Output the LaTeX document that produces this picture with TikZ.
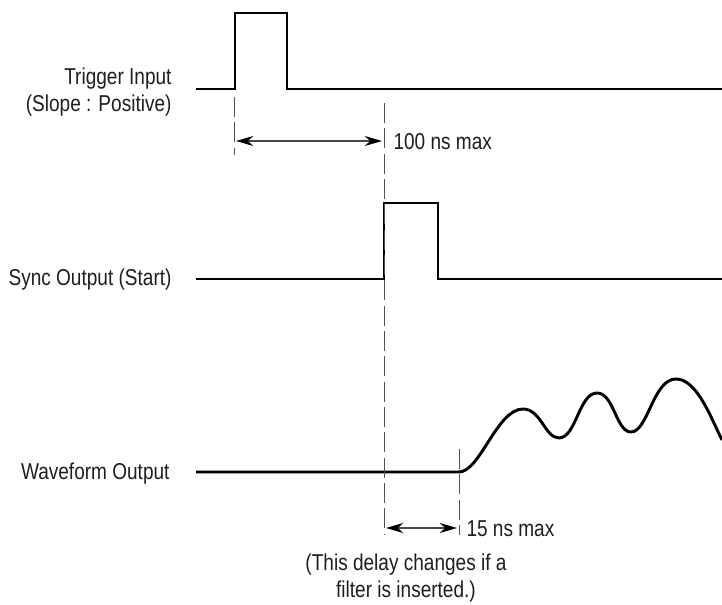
\documentclass[tikz,border=0pt]{standalone}
\usepackage{fontspec}
\setmainfont[FakeStretch=0.83]{Liberation Sans}
\usetikzlibrary{arrows.meta}

\tikzset{every picture/.style={line width=0.75pt}}
\tikzset{
  signal/.style={line width=2.2pt, line join=miter},
  guide/.style={color={rgb, 255:red, 80; green, 80; blue, 80 }, line width=0.65pt, dash pattern=on 15pt off 4pt},
  dimarrow/.style={color={rgb, 255:red, 70; green, 70; blue, 70 }, line width=0.9pt, {Stealth[length=13pt,width=7.5pt,color=black]}-{Stealth[length=13pt,width=7.5pt,color=black]}},
  lbl/.style={inner sep=0.75pt, font=\fontsize{17.2}{20.5}\selectfont, color={rgb, 255:red, 30; green, 30; blue, 30 }}
}

\begin{document}
\begin{tikzpicture}[x=0.75pt,y=0.75pt,yscale=-1,xscale=1]
		\useasboundingbox (0,0) rectangle (722,605); %diagram is 722 by 605
		
		%Straight Lines [id:trigger] 
		\draw [signal]  (196,89) -- (235,89) -- (235,13) -- (287,13) -- (287,89) -- (722,89) ;
		%Straight Lines [id:sync] 
		\draw [signal]  (196,279) -- (384,279) -- (384,203) -- (438,203) -- (438,279) -- (722,279) ;
		%Curve Lines [id:waveform] 
		\draw [signal]  (196,472) -- (459,472) .. controls (480,472) and (497,409) .. (523,409) .. controls (541,409) and (545,438) .. (559,438) .. controls (576,438) and (579,393) .. (597,393) .. controls (614,393) and (616,432) .. (631,432) .. controls (648,432) and (653,379) .. (676,379) .. controls (697,379) and (711,418) .. (722,440) ;
		
		%Dashed Lines 
		\coordinate (tl) at (234,97) ;
		\coordinate (tb) at (234,155) ;
		\coordinate (sl) at (384,103) ;
		\coordinate (sb) at (384,534) ;
		\coordinate (wl) at (459,449) ;
		\coordinate (wb) at (459,535) ;
		\draw [guide]  (tl) -- (tb) ;
		\draw [guide]  (sl) -- (sb) ;
		\draw [guide]  (wl) -- (wb) ;
		
		%Arrows 
		\coordinate (a1) at (236,141) ;
		\coordinate (a2) at (382,141) ;
		\coordinate (b1) at (386,528) ;
		\coordinate (b2) at (457,528) ;
		\draw [dimarrow]  (a1) -- (a2) ;
		\draw [dimarrow]  (b1) -- (b2) ;
		
		% Text Node
		\node (trig) [lbl, anchor=east, align=right] at (173,92) {Trigger Input\\(Slope : Positive)};
		% Text Node
		\node (sync) [lbl, anchor=east] at (173,280) {Sync Output (Start)};
		% Text Node
		\node (wave) [lbl, anchor=east] at (171,474) {Waveform Output};
		% Text Node
		\node (hund) [lbl, anchor=west] at (392,142) {100 ns max};
		% Text Node
		\node (fift) [lbl, anchor=west] at (465,529) {15 ns max};
		% Text Node
		\node (note) [lbl, align=center] at (406,578) {(This delay changes if a\\filter is inserted.)};
		
	\end{tikzpicture}
\end{document}
